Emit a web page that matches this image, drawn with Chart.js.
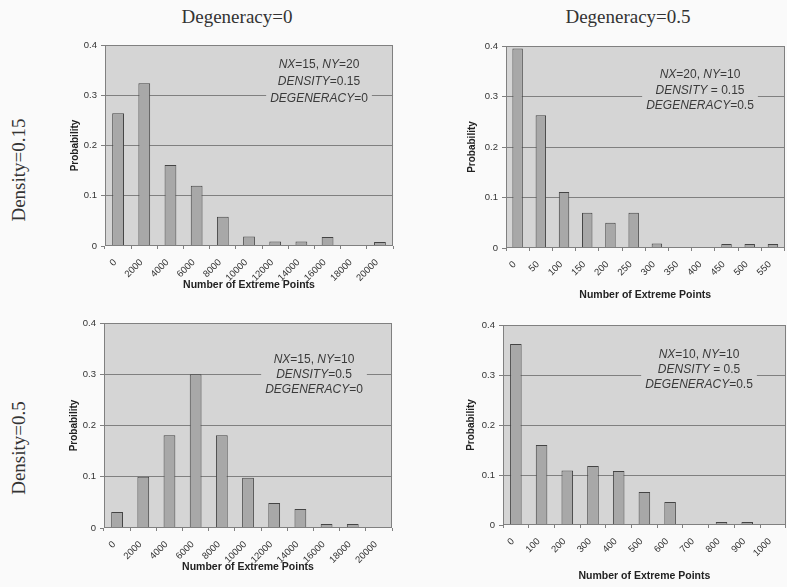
<!DOCTYPE html>
<html>
<head>
<meta charset="utf-8">
<script src="https://cdn.jsdelivr.net/npm/chart.js@4.4.1/dist/chart.umd.min.js"></script>
<style>
  html, body { margin: 0; padding: 0; width: 787px; height: 587px; overflow: hidden; background: #fafafa; }
  canvas { position: absolute; }
  .head {
    position: absolute; white-space: nowrap; line-height: 1;
    font-family: "Liberation Serif", "Times New Roman", serif; font-size: 19px; color: #333;
    transform: translate(-50%, -50%);
  }
  .side { transform: translate(-50%, -50%) rotate(-90deg); }
</style>
</head>
<body>
<div class="head" style="left:237px; top:16px;">Degeneracy=0</div>
<div class="head" style="left:628px; top:16px;">Degeneracy=0.5</div>
<div class="head side" style="left:18px; top:170px;">Density=0.15</div>
<div class="head side" style="left:18px; top:448px;">Density=0.5</div>

<canvas id="chartTL" width="336" height="256" style="left:60px; top:35px;"></canvas>
<canvas id="chartTR" width="328" height="265" style="left:461px; top:36px;"></canvas>
<canvas id="chartBL" width="336" height="260" style="left:59px; top:313px;"></canvas>
<canvas id="chartBR" width="331" height="267" style="left:458px; top:315px;"></canvas>

<script>
// bin labels (lower edge of each bin)
var binsLarge = ['0', '2000', '4000', '6000', '8000', '10000', '12000', '14000', '16000', '18000', '20000'];
var binsSmall = ['0', '50', '100', '150', '200', '250', '300', '350', '400', '450', '500', '550'];
var binsMid = ['0', '100', '200', '300', '400', '500', '600', '700', '800', '900', '1000'];

// probabilities
var probTL = [0.264, 0.324, 0.161, 0.12, 0.058, 0.019, 0.009, 0.009, 0.018, 0, 0.008];
var probTR = [0.395, 0.263, 0.111, 0.07, 0.05, 0.07, 0.009, 0, 0, 0.008, 0.008, 0.008];
var probBL = [0.031, 0.1, 0.181, 0.3, 0.181, 0.098, 0.049, 0.037, 0.008, 0.008, 0];
var probBR = [0.362, 0.16, 0.109, 0.118, 0.108, 0.066, 0.046, 0, 0.006, 0.006, 0];

var yTicks = [0, 0.1, 0.2, 0.3, 0.4];

// note text: [text, italic]
var noteTL = [[['NX', true], ['=15, ', false], ['NY', true], ['=20', false]],
              [['DENSITY', true], ['=0.15', false]],
              [['DEGENERACY', true], ['=0', false]]];
var noteTR = [[['NX', true], ['=20, ', false], ['NY', true], ['=10', false]],
              [['DENSITY', true], [' = 0.15', false]],
              [['DEGENERACY', true], ['=0.5', false]]];
var noteBL = [[['NX', true], ['=15, ', false], ['NY', true], ['=10', false]],
              [['DENSITY', true], ['=0.5', false]],
              [['DEGENERACY', true], ['=0', false]]];
var noteBR = [[['NX', true], ['=10, ', false], ['NY', true], ['=10', false]],
              [['DENSITY', true], [' = 0.5', false]],
              [['DEGENERACY', true], ['=0.5', false]]];

Chart.defaults.font.family = '"Liberation Sans", Arial, sans-serif';

var PLOT_BG = '#d5d5d5';
var GRID = '#808080';

// gray plot area, frame, and the text box with the run parameters
var plotFrame = {
  id: 'plotFrame',
  beforeDraw: function(chart) {
    var a = chart.chartArea, ctx = chart.ctx;
    ctx.save();
    ctx.fillStyle = PLOT_BG;
    ctx.fillRect(a.left, a.top, a.right - a.left, a.bottom - a.top);
    ctx.restore();
  },
  afterDatasetsDraw: function(chart, args, opts) {
    var a = chart.chartArea, ctx = chart.ctx;
    var lines = opts.lines || [];
    ctx.save();
    ctx.textBaseline = 'middle';
    var widths = lines.map(function(line) {
      var w = 0;
      line.forEach(function(seg) {
        ctx.font = (seg[1] ? 'italic ' : '') + '12px "Liberation Sans", Arial, sans-serif';
        w += ctx.measureText(seg[0]).width;
      });
      return w;
    });
    var maxW = Math.max.apply(null, widths);
    var cx = a.left + opts.cx, y0 = a.top + opts.cy;
    ctx.fillStyle = PLOT_BG;
    ctx.fillRect(cx - maxW / 2 - 4, y0 - opts.lh / 2 - 1, maxW + 8, opts.lh * lines.length + 2);
    ctx.fillStyle = '#3a3a3a';
    lines.forEach(function(line, i) {
      var x = cx - widths[i] / 2;
      line.forEach(function(seg) {
        ctx.font = (seg[1] ? 'italic ' : '') + '12px "Liberation Sans", Arial, sans-serif';
        ctx.fillText(seg[0], x, y0 + i * opts.lh);
        x += ctx.measureText(seg[0]).width;
      });
    });
    ctx.restore();
  },
  afterDraw: function(chart) {
    var a = chart.chartArea, ctx = chart.ctx;
    ctx.save();
    ctx.strokeStyle = GRID;
    ctx.lineWidth = 1;
    ctx.strokeRect(Math.round(a.left) + 0.5, Math.round(a.top) + 0.5,
      Math.round(a.right - a.left) - 1, Math.round(a.bottom - a.top) - 1);
    ctx.restore();
  }
};

function makeChart(id, labels, values, note, cfg) {
  return new Chart(document.getElementById(id), {
    type: 'bar',
    data: {
      labels: labels,
      datasets: [{
        data: values,
        backgroundColor: '#a8a8a8',
        borderColor: '#444',
        borderWidth: 1,
        barPercentage: 0.45,
        categoryPercentage: 1
      }]
    },
    options: {
      responsive: false,
      animation: false,
      devicePixelRatio: 1,
      layout: { padding: { top: 10, right: 0, bottom: 0, left: 0 } },
      plugins: {
        legend: { display: false },
        tooltip: { enabled: false },
        plotFrame: { lines: note, cx: cfg.noteX, cy: cfg.noteY, lh: cfg.noteLh }
      },
      scales: {
        x: {
          offset: true,
          border: { display: false },
          grid: { drawOnChartArea: false, drawTicks: true, tickLength: 3, color: GRID, offset: true },
          ticks: {
            autoSkip: false, minRotation: 45, maxRotation: 45,
            padding: 8, labelOffset: -3,
            color: '#333', font: { size: 9.5 }
          },
          title: {
            display: true, text: 'Number of Extreme Points', color: '#222',
            font: { size: 10.5, weight: 'bold' }, padding: { top: 0, bottom: cfg.xTitlePad }
          },
          afterFit: function(s) { s.height = cfg.xHeight; }
        },
        y: {
          min: 0, max: 0.4,
          border: { display: false },
          afterBuildTicks: function(axis) {
            axis.ticks = yTicks.map(function(v) { return { value: v }; });
          },
          grid: {
            tickLength: 4,
            tickColor: GRID,
            color: function(c) {
              var v = c.tick ? c.tick.value : 0;
              return (v === 0 || v === 0.4) ? 'rgba(0,0,0,0)' : GRID;
            }
          },
          ticks: {
            padding: 4, color: '#333', font: { size: 9.5 },
            callback: function(v) { return v === 0 ? '0' : v.toFixed(1); }
          },
          title: {
            display: true, text: 'Probability', color: '#222',
            font: { size: 10, weight: 'bold' }, padding: { top: cfg.yTitlePad, bottom: 0 }
          },
          afterFit: function(s) { s.width = 45; }
        }
      }
    },
    plugins: [plotFrame]
  });
}

makeChart('chartTL', binsLarge, probTL, noteTL,
  { xHeight: 45, xTitlePad: 0, yTitlePad: 9, noteX: 214, noteY: 20, noteLh: 17 });
makeChart('chartTR', binsSmall, probTR, noteTR,
  { xHeight: 53, xTitlePad: 0, yTitlePad: 5, noteX: 194, noteY: 29, noteLh: 15.5 });
makeChart('chartBL', binsLarge, probBL, noteBL,
  { xHeight: 45, xTitlePad: 0, yTitlePad: 9, noteX: 210, noteY: 37, noteLh: 15 });
makeChart('chartBR', binsMid, probBR, noteBR,
  { xHeight: 57, xTitlePad: 0, yTitlePad: 7, noteX: 196, noteY: 30, noteLh: 15 });
</script>
</body>
</html>
